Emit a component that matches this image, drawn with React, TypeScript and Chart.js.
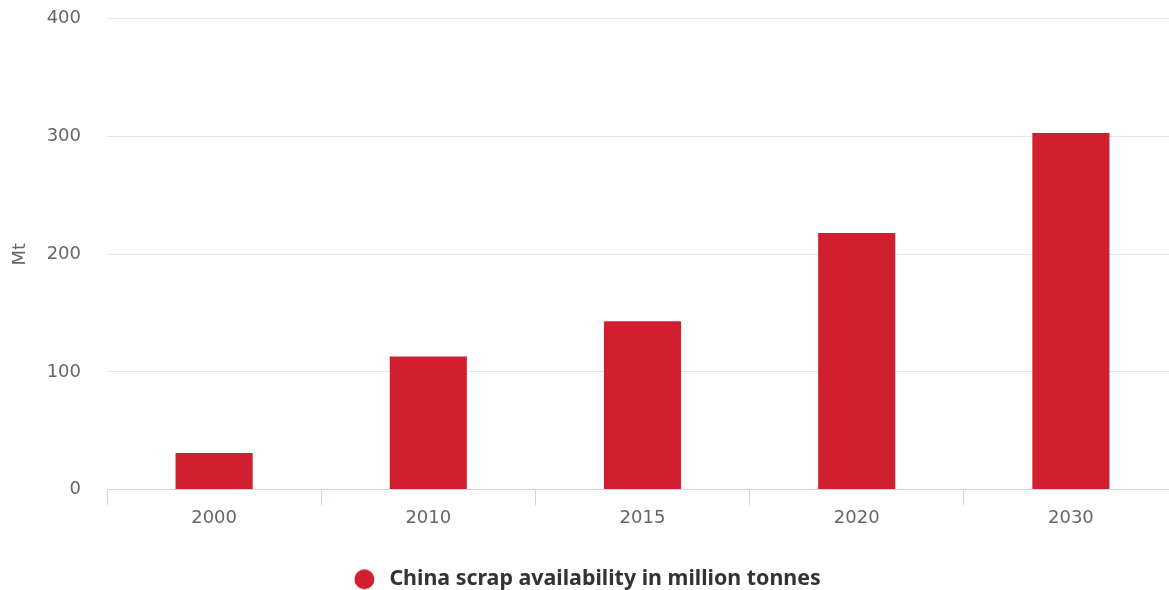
import React, { useEffect, useRef } from "react";
import { Chart, registerables } from "chart.js";

Chart.register(...registerables);

const categories = ["2000", "2010", "2015", "2020", "2030"];
const scrapValues = [31, 113, 143, 218, 303];
const seriesLabel = "China scrap availability in million tonnes";
const yTicks = [0, 100, 200, 300, 400];

const W = 1178;
const H = 608;

function makeLegendDot(color: string) {
  const c = document.createElement("canvas");
  c.width = 40;
  c.height = 22;
  const g = c.getContext("2d")!;
  g.fillStyle = color;
  g.beginPath();
  g.arc(16.4, 11, 10, 0, Math.PI * 2);
  g.fill();
  return c;
}

export default function App() {
  const ref = useRef<HTMLCanvasElement | null>(null);
  useEffect(() => {
    document.body.style.margin = "0";
    const ctx = ref.current!;
    const dot = makeLegendDot("#d01f2f");
    const chart = new Chart(ctx, {
      type: "bar",
      data: {
        labels: categories,
        datasets: [
          {
            label: seriesLabel,
            data: scrapValues,
            backgroundColor: "#d01f2f",
            borderColor: "#d01f2f",
            borderWidth: 0,
            categoryPercentage: 1,
            barPercentage: 0.36,
          },
        ],
      },
      options: {
        responsive: false,
        animation: false,
        maintainAspectRatio: false,
        layout: { padding: { left: 0, right: 0, top: 0, bottom: -10 } },
        plugins: {
          tooltip: { enabled: false },
          legend: {
            position: "bottom",
            labels: {
              usePointStyle: true,
              pointStyle: dot as any,
              boxWidth: 22,
              boxHeight: 14,
              padding: 4,
              color: "#333333",
              font: { family: "'Noto Sans'", size: 21.4, weight: "bold" },
            },
          },
        },
        scales: {
          x: {
            offset: true,
            afterFit: (scale: any) => {
              scale.height = 75;
            },
            grid: {
              offset: true,
              drawOnChartArea: false,
              drawTicks: true,
              tickLength: 16,
              color: "#ccd6eb",
            },
            border: { display: true, color: "#ccd6eb", width: 1 },
            ticks: {
              color: "#666666",
              padding: 2,
              font: { family: "'DejaVu Sans'", size: 18 },
            },
          },
          y: {
            min: 0,
            max: 400,
            afterBuildTicks: (scale: any) => {
              scale.ticks = yTicks.map((v) => ({ value: v }));
            },
            afterFit: (scale: any) => {
              scale.width = 107;
            },
            grid: { color: "#e6e6e6", drawTicks: false },
            border: { display: false },
            ticks: {
              color: "#666666",
              padding: 26,
              font: { family: "'DejaVu Sans'", size: 18 },
            },
            title: {
              display: true,
              text: "Mt",
              color: "#666666",
              padding: { top: 10, bottom: 0 },
              font: { family: "'DejaVu Sans'", size: 18 },
            },
          },
        },
      },
    });
    return () => chart.destroy();
  }, []);
  return (
    <div style={{ position: "absolute", left: 0, top: 0, width: 1169, height: 590, overflow: "hidden" }}>
      <canvas ref={ref} width={W} height={H} style={{ position: "absolute", left: 0, top: -18 }} />
    </div>
  );
}
